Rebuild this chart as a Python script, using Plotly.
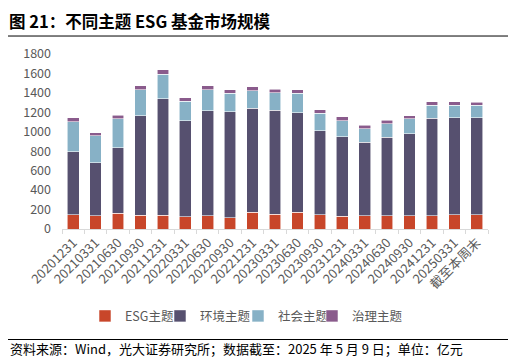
import plotly.graph_objects as go

categories = ["20201231", "20210331", "20210630", "20210930", "20211231", "20220331",
              "20220630", "20220930", "20221231", "20230331", "20230630", "20230930",
              "20231231", "20240331", "20240630", "20240930", "20241231", "20250331", "截至本周末"]
esg = [147, 137, 161, 140, 140, 127, 137, 116, 171, 154, 171, 147, 133, 137, 137, 137, 137, 147, 147]
env = [650, 547, 677, 1023, 1201, 989, 1081, 1092, 1071, 1068, 1027, 862, 818, 753, 807, 845, 1003, 999, 999]
soc = [308, 274, 295, 271, 250, 198, 216, 188, 182, 181, 198, 182, 165, 143, 141, 151, 133, 127, 127]
gov = [38, 34, 37, 37, 45, 38, 37, 38, 37, 34, 34, 34, 37, 35, 34, 34, 38, 38, 31]

names = ["ESG主题", "环境主题", "社会主题", "治理主题"]
colors = ["#C8462A", "#56506F", "#87B1C6", "#8A5B8C"]

font_family = "Noto Sans CJK SC, Noto Sans, sans-serif"

# page body has an 8px offset; figure coords = screen coords - 8
W, H = 508, 353
L, R, T, B = 54, 28, 46, 131.7
PW, PH = W - L - R, H - T - B
def px(x):  # figure x px -> paper
    return (x - L) / PW
def py(y):  # figure y px -> paper
    return (H - B - y) / PH

legend_text_x = [118, 193, 271, 345]
legend_keys = ["legend", "legend2", "legend3", "legend4"]

fig = go.Figure()
for nm, vals, c, lk in zip(names, [esg, env, soc, gov], colors, legend_keys):
    fig.add_trace(go.Bar(name=nm, x=categories, y=vals, marker_color=c, legend=lk,
                         marker_line=dict(width=0.8, color="rgba(255,255,255,0.7)")))

legend_common = dict(orientation="h", xanchor="left", y=py(308.7), yanchor="middle",
                     font=dict(size=12.5, color="#595959"), itemwidth=30,
                     bgcolor="rgba(0,0,0,0)")
layout_legends = {}
for lk, tx in zip(legend_keys, legend_text_x):
    layout_legends[lk] = dict(legend_common, x=px(tx - 41))

fig.update_layout(
    barmode="stack",
    bargap=0.48,
    width=W, height=H,
    margin=dict(l=L, r=R, t=T, b=B, autoexpand=False),
    paper_bgcolor="white", plot_bgcolor="white",
    font=dict(family=font_family, color="#595959", size=12),
    showlegend=True,
    xaxis=dict(tickangle=-45, showline=True, linecolor="#D9D9D9", linewidth=1,
               ticks="outside", ticklen=4, tickcolor="#D9D9D9", tickson="boundaries",
               tickfont=dict(size=13, color="#595959"), showgrid=False),
    yaxis=dict(range=[0, 1800], dtick=200, showgrid=False, zeroline=False,
               tickfont=dict(size=12.5, color="#595959"), ticks="", ticklabelstandoff=10),
    **layout_legends,
)

fig.add_annotation(text="<b>图 21：不同主题 ESG 基金市场规模</b>", xref="paper", yref="paper",
                   x=px(0), xanchor="left", y=py(0), yanchor="top", borderpad=0,
                   showarrow=False, font=dict(size=16.5, color="#000000", family=font_family))
fig.add_annotation(text="资料来源：Wind，光大证券研究所；数据截至：2025 年 5 月 9 日；单位：亿元",
                   xref="paper", yref="paper",
                   x=px(0), xanchor="left", y=py(341), yanchor="middle",
                   showarrow=False, font=dict(size=13, color="#000000", family=font_family))
for yl in (28, 332):
    fig.add_shape(type="line", xref="paper", yref="paper", x0=px(0), x1=px(502),
                  y0=py(yl), y1=py(yl), line=dict(color="#000000", width=1))

fig.write_html("out.html")
